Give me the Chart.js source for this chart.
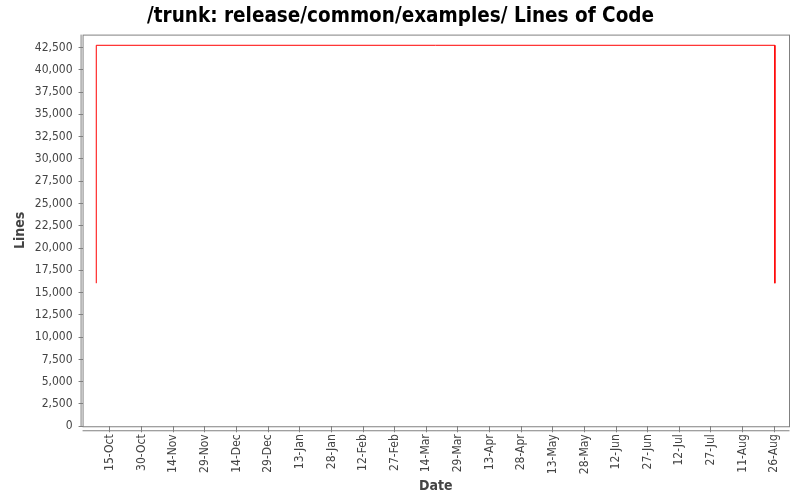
<!DOCTYPE html>
<html>
<head>
<meta charset="utf-8">
<script src="https://cdn.jsdelivr.net/npm/chart.js@4"></script>
<style>
  html, body { margin: 0; padding: 0; background: #fff; }
  #wrap { width: 800px; height: 500px; }
</style>
</head>
<body>
<div id="wrap"><canvas id="loc"></canvas></div>
<script>
// Dates as day offsets from 15-Oct
const tickLabels = ['15-Oct','30-Oct','14-Nov','29-Nov','14-Dec','29-Dec','13-Jan','28-Jan','12-Feb','27-Feb',
  '14-Mar','29-Mar','13-Apr','28-Apr','13-May','28-May','12-Jun','27-Jun','12-Jul','27-Jul','11-Aug','26-Aug'];
const tickDays = tickLabels.map((_, i) => i * 15);
const yTicks = [0, 2500, 5000, 7500, 10000, 12500, 15000, 17500, 20000, 22500, 25000,
  27500, 30000, 32500, 35000, 37500, 40000, 42500];
const pointDays = [-6.5, -6.5, 315.3, 315.3];
const pointLines = [16050, 42750, 42750, 16050];

const AXIS = '#808080';
const FONT = '"DejaVu Sans Condensed", "DejaVu Sans", sans-serif';

// plot frame plus axis lines set slightly apart from it
const framePlugin = {
  id: 'frame',
  afterDraw(chart) {
    const { ctx, chartArea: a } = chart;
    ctx.save();
    ctx.strokeStyle = AXIS;
    ctx.lineWidth = 1;
    ctx.strokeRect(a.left + 0.5, a.top + 0.5, a.right - a.left, a.bottom - a.top);
    ctx.beginPath();
    ctx.moveTo(a.left - 1.5, a.top);
    ctx.lineTo(a.left - 1.5, a.bottom + 0.5);
    ctx.moveTo(a.left, a.bottom + 4.5);
    ctx.lineTo(a.right + 0.5, a.bottom + 4.5);
    ctx.stroke();
    ctx.restore();
  }
};

new Chart(document.getElementById('loc'), {
  type: 'line',
  data: {
    datasets: [{
      data: pointDays.map((d, i) => ({ x: d, y: pointLines[i] })),
      borderColor: '#ff0000',
      borderWidth: 1,
      pointRadius: 0,
      tension: 0,
      fill: false
    }]
  },
  options: {
    responsive: true,
    maintainAspectRatio: false,
    animation: false,
    layout: { padding: { top: 2, right: 11, left: 12, bottom: 5 } },
    plugins: {
      legend: { display: false },
      tooltip: { enabled: false },
      title: {
        display: true,
        text: '/trunk: release/common/examples/ Lines of Code',
        color: '#000',
        font: { family: FONT, size: 20.5, weight: 'bold' },
        padding: { top: 2, bottom: 6 }
      }
    },
    scales: {
      x: {
        type: 'linear',
        min: -13,
        max: 322,
        afterBuildTicks: (s) => { s.ticks = tickDays.map(v => ({ value: v })); },
        ticks: {
          autoSkip: false,
          minRotation: 90,
          maxRotation: 90,
          color: '#444',
          padding: 2,
          font: { family: FONT, size: 12 },
          callback: (v) => tickLabels[tickDays.indexOf(v)]
        },
        grid: { drawOnChartArea: false, drawTicks: true, tickLength: 6, color: AXIS },
        border: { display: false },
        title: {
          display: true,
          text: 'Date',
          color: '#444',
          font: { family: FONT, size: 14, weight: 'bold' },
          padding: { top: 2, bottom: 0 }
        }
      },
      y: {
        min: 0,
        max: 43950,
        afterBuildTicks: (s) => { s.ticks = yTicks.map(v => ({ value: v })); },
        ticks: {
          color: '#444',
          padding: 6,
          font: { family: FONT, size: 12 },
          callback: (v) => v.toLocaleString('en-US')
        },
        grid: { drawOnChartArea: false, drawTicks: true, tickLength: 4, color: AXIS },
        border: { display: false },
        title: {
          display: true,
          text: 'Lines',
          color: '#444',
          font: { family: FONT, size: 14, weight: 'bold' },
          padding: { top: 0, bottom: 0 }
        }
      }
    }
  },
  plugins: [framePlugin]
});
</script>
</body>
</html>
